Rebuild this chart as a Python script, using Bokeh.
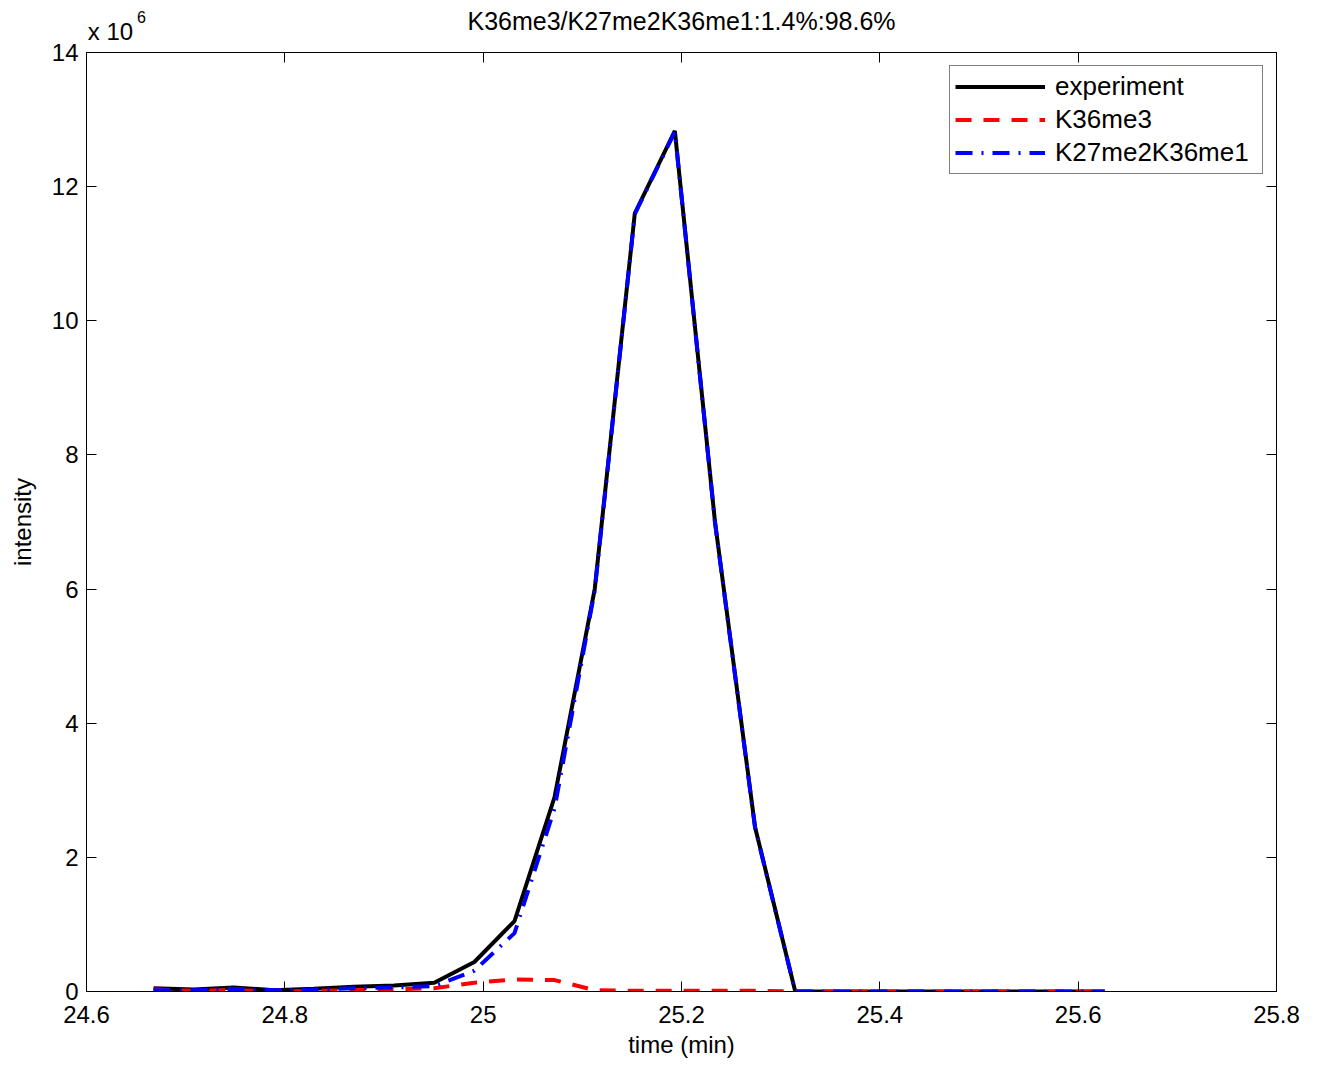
from bokeh.plotting import figure
from bokeh.models import (Range1d, FixedTicker, CustomJSTickFormatter, LinearAxis,
                          Legend, LegendItem)
from bokeh.embed import file_html
from bokeh.resources import INLINE

# ---- data (time in min, intensity in counts) ----
time_min = [24.6676, 24.7080, 24.7485, 24.7890, 24.8293, 24.8698, 24.9102, 24.9507,
            24.9911, 25.0316, 25.0720, 25.1125, 25.1529, 25.1933, 25.2338, 25.2742,
            25.3147, 25.3536, 25.3925, 25.4315, 25.4704, 25.5093, 25.5480, 25.5870,
            25.6267]
experiment = [50000, 30000, 60000, 20000, 40000, 70000, 90000, 130000,
              440000, 1050000, 2900000, 6000000, 11600000, 12830000, 7000000, 2450000,
              0, 0, 0, 0, 0, 0, 0, 0, 0]
k36me3 = [30000, 10000, 20000, 0, 10000, 20000, 30000, 50000,
          130000, 180000, 170000, 20000, 10000, 10000, 10000, 10000,
          0, 0, 0, 0, 0, 0, 0, 0, 0]
k27me2k36me1 = [20000, 20000, 40000, 20000, 30000, 50000, 60000, 80000,
                310000, 870000, 2730000, 5980000, 11590000, 12820000, 6990000, 2440000,
                0, 0, 0, 0, 0, 0, 0, 0, 0]

x_ticks = [24.6, 24.8, 25.0, 25.2, 25.4, 25.6, 25.8]
y_ticks = [0, 2e6, 4e6, 6e6, 8e6, 10e6, 12e6, 14e6]
title_text = "K36me3/K27me2K36me1:1.4%:98.6%"
mult_text = "x 10"
exp_text = "6"
series_names = ["experiment", "K36me3", "K27me2K36me1"]

FONT = "Liberation Sans"
X0, X1 = 24.6, 25.8
FRAME_W = 1190
PX_PER_MIN = FRAME_W / (X1 - X0)

p = figure(width=1317, height=1065, output_backend="svg", toolbar_location=None,
           x_range=Range1d(X0, X1), y_range=Range1d(0, 14e6),
           min_border_left=86, min_border_right=41, min_border_top=52, min_border_bottom=74)
p.background_fill_color = "white"
p.border_fill_color = "white"
p.outline_line_color = "black"
p.outline_line_width = 1
p.xgrid.visible = False
p.ygrid.visible = False
p.title.visible = False

xfmt = CustomJSTickFormatter(code="return Number(tick.toFixed(1)).toString();")
yfmt = CustomJSTickFormatter(code="return (tick/1e6).toFixed(0);")

def style_axis(ax, show_labels=True):
    ax.axis_line_color = "black"
    ax.axis_line_width = 1
    ax.major_tick_line_color = "black"
    ax.major_tick_in = 10
    ax.major_tick_out = 0
    ax.minor_tick_line_color = None
    ax.major_label_text_font = FONT
    if show_labels:
        ax.major_label_text_font_size = "24px"
        ax.major_label_text_color = "black"
    else:
        ax.major_label_text_font_size = "1px"
        ax.major_label_text_color = None
        ax.major_label_standoff = 0

def text_axis(text, pos, size, standoff):
    ax = LinearAxis(ticker=FixedTicker(ticks=[pos]),
                    formatter=CustomJSTickFormatter(args=dict(t=text), code="return t;"))
    ax.axis_line_color = None
    ax.major_tick_line_color = None
    ax.minor_tick_line_color = None
    ax.major_tick_in = 0
    ax.major_tick_out = 0
    ax.major_label_text_font = FONT
    ax.major_label_text_font_size = size
    ax.major_label_text_color = "black"
    ax.major_label_standoff = standoff
    return ax

xa = p.xaxis[0]
xa.ticker = FixedTicker(ticks=x_ticks)
xa.formatter = xfmt
style_axis(xa)
xa.major_label_standoff = 14
xa.axis_label = "time (min)"
xa.axis_label_text_font = FONT
xa.axis_label_text_font_size = "24px"
xa.axis_label_text_font_style = "normal"
xa.axis_label_text_color = "black"
xa.axis_label_standoff = 5

ya = p.yaxis[0]
ya.ticker = FixedTicker(ticks=y_ticks)
ya.formatter = yfmt
style_axis(ya)
ya.major_label_standoff = 8
ya.axis_label = "intensity"
ya.axis_label_text_font = FONT
ya.axis_label_text_font_size = "24px"
ya.axis_label_text_font_style = "normal"
ya.axis_label_text_color = "black"
ya.axis_label_standoff = 13

# top axis: tick marks only (box look)
top_ax = LinearAxis(ticker=FixedTicker(ticks=x_ticks), formatter=xfmt)
style_axis(top_ax, show_labels=False)
p.add_layout(top_ax, "above")

# "x 10" multiplier, then raised exponent "6" (which also carries the title)
mult_ax = text_axis(mult_text, X0 + 24 / PX_PER_MIN, "24px", 8)
p.add_layout(mult_ax, "above")
exp_ax = text_axis(exp_text, X0 + 55 / PX_PER_MIN, "16px", -8)
exp_ax.axis_label = title_text
exp_ax.axis_label_text_font = FONT
exp_ax.axis_label_text_font_size = "25px"
exp_ax.axis_label_text_font_style = "normal"
exp_ax.axis_label_text_color = "black"
exp_ax.axis_label_standoff = -27
p.add_layout(exp_ax, "above")

right_ax = LinearAxis(ticker=FixedTicker(ticks=y_ticks), formatter=yfmt)
style_axis(right_ax, show_labels=False)
p.add_layout(right_ax, "right")

r_exp = p.line(time_min, experiment, line_color="black", line_width=4)
r_k36 = p.line(time_min, k36me3, line_color="#ff0000", line_width=4, line_dash="16 12")
r_k27 = p.line(time_min, k27me2k36me1, line_color="#0000ff", line_width=4, line_dash="17 9 2 9")

legend = Legend(items=[LegendItem(label=series_names[0], renderers=[r_exp]),
                       LegendItem(label=series_names[1], renderers=[r_k36]),
                       LegendItem(label=series_names[2], renderers=[r_k27])],
                location="top_right")
legend.label_text_font = FONT
legend.label_text_font_size = "26px"
legend.label_text_color = "black"
legend.glyph_width = 90
legend.glyph_height = 31
legend.label_height = 31
legend.label_width = 202
legend.spacing = 2
legend.padding = 5
legend.margin = 13
legend.label_standoff = 10
legend.border_line_color = "black"
legend.border_line_width = 1
legend.background_fill_color = "white"
legend.background_fill_alpha = 1
p.add_layout(legend)

open("out.html", "w").write(file_html(p, INLINE))
